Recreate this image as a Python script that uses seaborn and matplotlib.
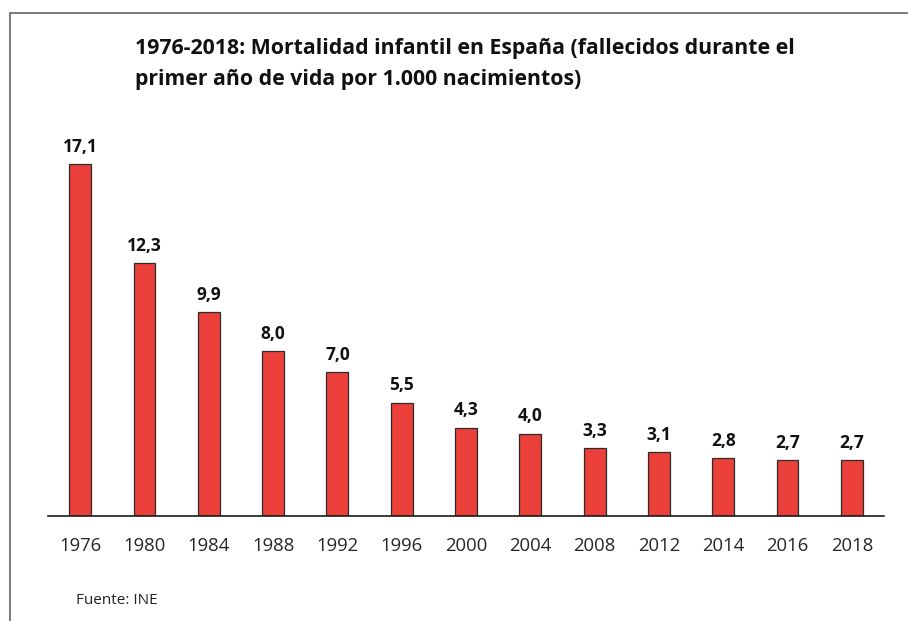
import matplotlib
matplotlib.use("Agg")
import matplotlib.pyplot as plt
from matplotlib.lines import Line2D
import seaborn as sns
import pandas as pd

years = ["1976", "1980", "1984", "1988", "1992", "1996", "2000",
         "2004", "2008", "2012", "2014", "2016", "2018"]
values = [17.1, 12.3, 9.9, 8.0, 7.0, 5.5, 4.3, 4.0, 3.3, 3.1, 2.8, 2.7, 2.7]
title = ("1976-2018: Mortalidad infantil en España (fallecidos durante el\n"
         "primer año de vida por 1.000 nacimientos)")
source = "Fuente: INE"

sns.set_theme(style="white")
plt.rcParams["font.family"] = ["Open Sans", "DejaVu Sans"]

df = pd.DataFrame({"year": years, "value": values})

W, H = 908, 621
fig = plt.figure(figsize=(W / 100, H / 100), dpi=100)
ax = fig.add_axes([48 / W, (H - 516) / H, 836 / W, 386 / H])

sns.barplot(data=df, x="year", y="value", color="#EB403A", saturation=1,
            width=0.34, edgecolor="#2a2a2a", linewidth=0.9, ax=ax)

ax.set_xlim(-0.5, 12.5)
ax.set_ylim(0, 386 / 20.58)
ax.set_xlabel("")
ax.set_ylabel("")
ax.set_yticks([])
for s in ["top", "right", "left"]:
    ax.spines[s].set_visible(False)
ax.spines["bottom"].set_color("#1a1a1a")
ax.spines["bottom"].set_linewidth(1.2)
ax.tick_params(axis="x", length=0, pad=15, labelsize=13.3, labelcolor="#262626")

ax.bar_label(ax.containers[0], labels=[f"{v:.1f}".replace(".", ",") for v in values],
             padding=6, fontsize=12.5, fontweight="bold", color="#111111")

fig.text(135 / W, 1 - 38 / H, title, ha="left", va="top", fontsize=15.3,
         fontweight="bold", color="#111111", linespacing=1.6)
fig.text(76 / W, 1 - 600 / H, source, ha="left", va="center", fontsize=11,
         color="#222222")

fig.add_artist(Line2D([10 / W, 10 / W], [0, 1 - 13 / H], transform=fig.transFigure,
                      color="#707070", linewidth=1.3))
fig.add_artist(Line2D([10 / W, 1], [1 - 13 / H, 1 - 13 / H], transform=fig.transFigure,
                      color="#707070", linewidth=1.3))

fig.savefig("out.png", dpi=100)
